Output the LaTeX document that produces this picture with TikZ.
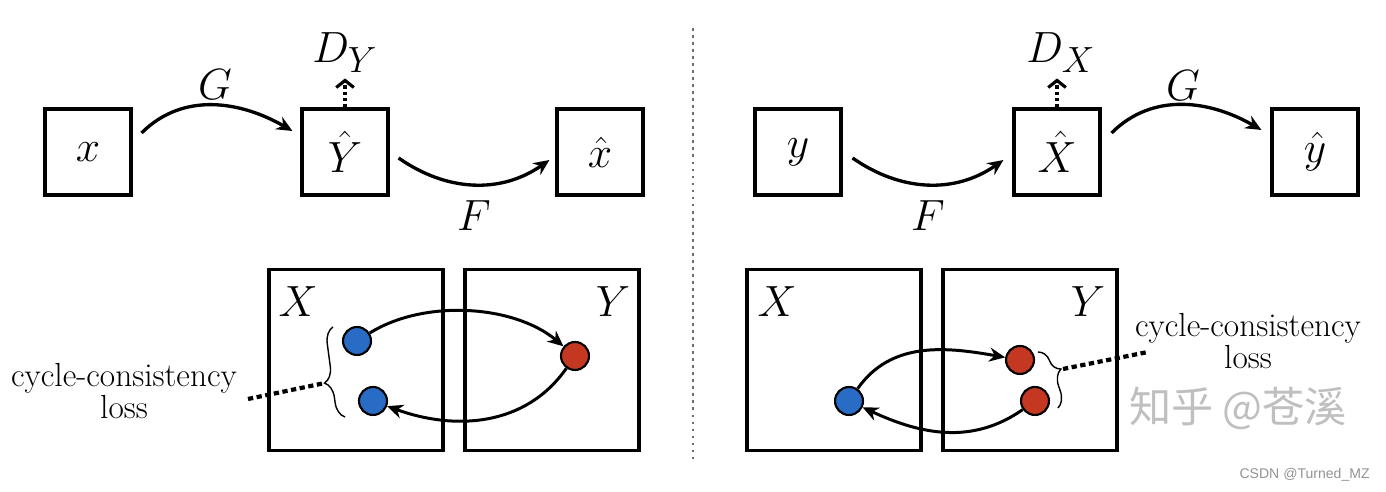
\documentclass[tikz,border=0pt]{standalone}
\usepackage{amsmath}
\usepackage{fontspec}
\usepackage{tikz}
\usetikzlibrary{arrows.meta, decorations.pathreplacing, positioning}
\newfontfamily\cjkfont{Noto Sans CJK SC}
\newfontfamily\markfont{Liberation Sans}
\definecolor{dotblue}{RGB}{40,108,198}
\definecolor{dotred}{RGB}{196,56,34}
\definecolor{sepgray}{RGB}{110,110,110}
\DeclareMathSizes{24.88}{24.88}{20.74}{14.4}

\begin{document}
\begin{tikzpicture}[x=0.02cm, y=0.02cm,
  sq/.style={draw, line width=1.8pt, minimum size=1.72cm, inner sep=0pt,
             font=\fontsize{24.88}{25}\selectfont},
  dom/.style={draw, line width=1.8pt, minimum width=3.48cm,
              minimum height=3.62cm, inner sep=0pt},
  lbl/.style={inner sep=0pt, font=\fontsize{24.88}{25}\selectfont},
  pt/.style={circle, draw, line width=1.2pt, minimum size=0.56cm, inner sep=0pt},
  map/.style={-{Stealth[length=9pt,width=8pt]}, line width=1.9pt},
  cyc/.style={-{Stealth[length=9pt,width=8pt]}, line width=1.7pt},
  disc/.style={-{Straight Barb[length=4pt,width=10pt,line width=1.8pt]}, line width=2pt,
               dash pattern=on 2pt off 1.5pt},
  lossline/.style={line width=2.4pt, dash pattern=on 3pt off 2pt},
  curly/.style={decorate, decoration={brace, amplitude=9pt, aspect=#1},
                line width=0.8pt},
  curly/.default=0.5,
  note/.style={align=center, inner sep=0pt, font=\fontsize{19}{17}\selectfont}]
  \useasboundingbox (0,0) rectangle (1386,492);

  % Forward cycle: x -> Y^ -> x^
  \node[sq] (xin) at (88,340) {$x$};
  \node[sq] (yfake) at (345,340) {$\hat{Y}$};
  \node[sq] (xrec) at (600,340) {$\hat{x}$};
  \node[lbl] (gl) at (215,407) {$G$};
  \node[lbl] (fl) at (474,276) {$F$};
  \node[lbl, anchor=base west] (dy) at (312,429) {$D_Y$};
  \draw[map] ([shift={(9,19)}]xin.east) to[out=45,in=150] ([shift={(-8,21)}]yfake.west);
  \draw[map] ([shift={(9,-6)}]yfake.east) to[out=-35,in=-145] ([shift={(-6,-8)}]xrec.west);
  \draw[disc, shorten >=3pt] (yfake.north) -- (yfake.north |- dy.south);

  % Backward cycle: y -> X^ -> y^
  \node[sq] (yin) at (798,340) {$y$};
  \node[sq] (xfake) at (1057,340) {$\hat{X}$};
  \node[sq] (yrec) at (1315,340) {$\hat{y}$};
  \node[lbl] (fr) at (928,276) {$F$};
  \node[lbl] (gr) at (1183,406) {$G$};
  \node[lbl, anchor=base west] (dx) at (1026,429) {$D_X$};
  \draw[map] ([shift={(10,-6)}]yin.east) to[out=-35,in=-145] ([shift={(-9,-8)}]xfake.west);
  \draw[map] ([shift={(10,19)}]xfake.east) to[out=45,in=150] ([shift={(-9,22)}]yrec.west);
  \draw[disc, shorten >=3pt] (xfake.north) -- (xfake.north |- dx.south);

  % Separator
  \draw[sepgray, line width=0.7pt, dash pattern=on 1.6pt off 2.4pt] (693,464) -- (693,30);

  % Domains, left
  \node[dom] (xdomL) at (356,132) {};
  \node[dom] (ydomL) at (552,132) {};
  \node[lbl] (xlabL) at (298,190) {$X$};
  \node[lbl] (ylabL) at (613,190) {$Y$};
  \node[pt, fill=dotblue] (bstart) at (357,151) {};
  \node[pt, fill=dotblue] (bback) at (373,91) {};
  \node[pt, fill=dotred] (rmid) at (575,136) {};
  \draw[cyc] (bstart) to[out=32,in=140, looseness=0.85] (rmid);
  \draw[cyc] (rmid) to[out=235,in=-20] (bback);
  \draw[curly=0.4] (345,75) -- (333,165);
  \coordinate (ltip) at (325,109);
  \coordinate (lend) at (248,93);
  \draw[lossline] (lend) -- (ltip);
  \node[note] (lossL) at (124,101) {cycle-consistency\\loss};

  % Domains, right
  \node[dom] (xdomR) at (834,132) {};
  \node[dom] (ydomR) at (1030,132) {};
  \node[lbl] (xlabR) at (777,190) {$X$};
  \node[lbl] (ylabR) at (1088,190) {$Y$};
  \node[pt, fill=dotblue] (bmid) at (849,91) {};
  \node[pt, fill=dotred] (rback) at (1020,132) {};
  \node[pt, fill=dotred] (rstart) at (1035,91) {};
  \draw[cyc] (bmid) to[out=55,in=170] (rback);
  \draw[cyc] (rstart) to[out=215,in=-25] (bmid);
  \draw[curly=0.4] (1038,140) -- (1058,84);
  \coordinate (rtip) at (1063,123);
  \coordinate (rend) at (1148,140);
  \draw[lossline] (rtip) -- (rend);
  \node[note] (lossR) at (1248,151) {cycle-consistency\\loss};

  % Watermarks
  \node[inner sep=0pt, text=gray!50, font=\cjkfont\fontsize{24}{24}\selectfont] (zhihu) at (1238,84) {知乎 @苍溪};
  \node[inner sep=0pt, anchor=east, text=gray!85, font=\markfont\fontsize{8}{8}\selectfont] (csdn) at (1370,17) {CSDN @Turned\_MZ};
\end{tikzpicture}
\end{document}
